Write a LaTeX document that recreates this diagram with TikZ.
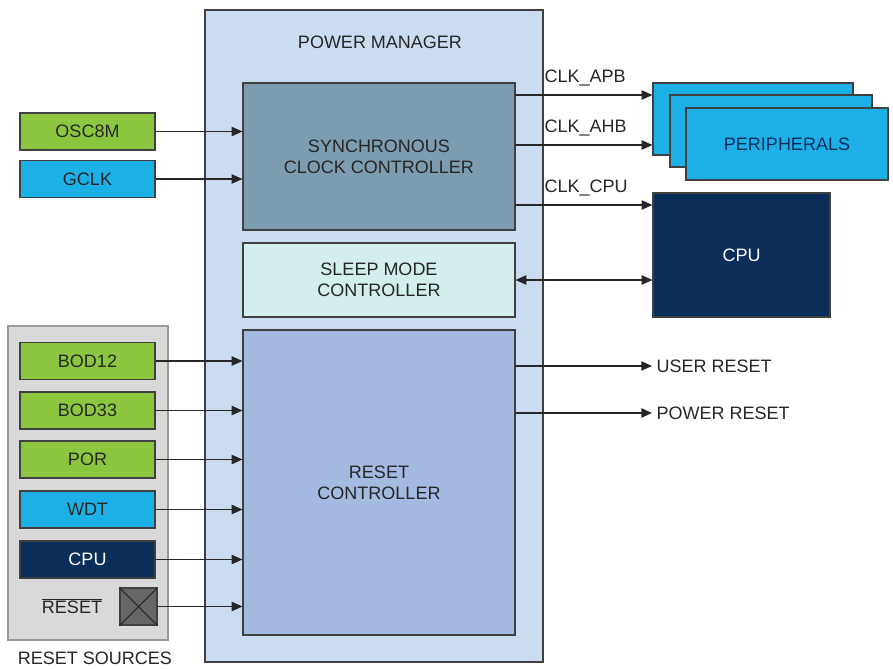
\documentclass[tikz,border=0pt]{standalone}
\usepackage{fontspec}
\setmainfont{Liberation Sans}
\usetikzlibrary{arrows.meta}
\definecolor{pmfill}{HTML}{CCDCF0}
\definecolor{scc}{HTML}{7E9CB0}
\definecolor{slp}{HTML}{D3EEEC}
\definecolor{rst}{HTML}{A4BAE0}
\definecolor{grn}{HTML}{8CC63F}
\definecolor{cyn}{HTML}{1CB0E6}
\definecolor{navy}{HTML}{0B2D5A}
\definecolor{gry}{HTML}{D9D9D9}
\begin{document}
\begin{tikzpicture}[x=0.75pt,y=-0.75pt,
  every node/.style={font=\fontsize{13.5}{16}\selectfont,align=center,text=black!85},
  box/.style={draw=black!75,line width=0.9pt,inner sep=0pt},
  src/.style={box,minimum width=101.25pt,minimum height=27.75pt},
  arr/.style={-{Triangle[length=8pt,width=7pt]},line width=0.8pt,black!85}]
\useasboundingbox (0,0) rectangle (893,668);
\node[box,fill=pmfill,minimum width=253.5pt,minimum height=489pt,line width=1.2pt] (pm) at (374,336) {};
\node at (380,42) {POWER MANAGER};
\node[box,fill=scc,minimum width=204pt,minimum height=110.25pt] (scc) at (379,156.5) {SYNCHRONOUS\\CLOCK CONTROLLER};
\node[box,fill=slp,minimum width=204pt,minimum height=55.5pt] (slp) at (379,280) {SLEEP MODE\\CONTROLLER};
\node[box,fill=rst,minimum width=204pt,minimum height=228.75pt] (rst) at (379,482.5) {RESET\\CONTROLLER};
\node[src,fill=grn] (osc) at (87.5,131.5) {OSC8M};
\node[src,fill=cyn] (gclk) at (87.5,179) {GCLK};
\draw[arr] (osc.east) -- (osc.east -| rst.west);
\draw[arr] (gclk.east) -- (gclk.east -| rst.west);
\node[box,draw=black!40,fill=gry,minimum width=120pt,minimum height=235.5pt] (rs) at (88,483) {};
\node[src,fill=grn] (b12) at (87.5,361) {BOD12};
\node[src,fill=grn] (b33) at (87.5,410.5) {BOD33};
\node[src,fill=grn] (por) at (87.5,459.5) {POR};
\node[src,fill=cyn] (wdt) at (87.5,509.5) {WDT};
\node[src,fill=navy,text=white] (cpus) at (87.5,559.5) {CPU};
\node[box,fill=black!60,minimum size=27.75pt] (xb) at (138.5,606.5) {};
\draw[black!85,line width=0.8pt] (xb.north west) -- (xb.south east) (xb.north east) -- (xb.south west);
\node at (72,606) {$\overline{\mbox{RESET}}$};
\node at (95,658) {RESET SOURCES};
\foreach \n in {b12,b33,por,wdt,cpus,xb} \draw[arr] (\n.east) -- (\n.east -| rst.west);
\node[box,fill=cyn,minimum width=150pt,minimum height=54pt] (p1) at (753,119) {};
\node[box,fill=cyn,minimum width=151.5pt,minimum height=54pt] (p2) at (771,131) {};
\node[box,fill=cyn,minimum width=151.5pt,minimum height=54pt,text=navy] (p3) at (787,144) {PERIPHERALS};
\node[box,fill=navy,text=white,minimum width=132.75pt,minimum height=93pt] (cpu) at (741.5,255) {CPU};
\coordinate (a1) at (515,95); \coordinate (a2) at (515,145); \coordinate (a3) at (515,205);
\draw[arr] (a1) -- (a1 -| p1.west);
\draw[arr] (a2) -- (a2 -| p1.west);
\draw[arr] (a3) -- (a3 -| cpu.west);
\node[anchor=south west,inner sep=1pt] at (543,88) {CLK\_APB};
\node[anchor=south west,inner sep=1pt] at (543,138) {CLK\_AHB};
\node[anchor=south west,inner sep=1pt] at (543,198) {CLK\_CPU};
\draw[arr,{Triangle[length=8pt,width=7pt]}-{Triangle[length=8pt,width=7pt]}] (slp.east) -- (slp.east -| cpu.west);
\coordinate (u) at (515,366); \coordinate (pr) at (515,413);
\coordinate (ue) at (652,366); \coordinate (pe) at (652,413);
\draw[arr] (u) -- (ue);
\draw[arr,line width=1.2pt] (pr) -- (pe);
\node[anchor=west] at (ue) {USER RESET};
\node[anchor=west] at (pe) {POWER RESET};
\end{tikzpicture}
\end{document}
